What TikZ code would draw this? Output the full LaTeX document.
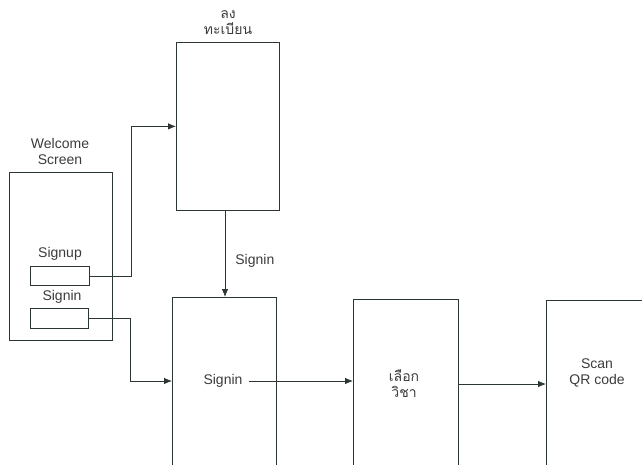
\documentclass[tikz,border=0pt]{standalone}
\usepackage{fontspec}
\setmainfont{Liberation Sans}
\newfontfamily\thaifont[Script=Thai]{Loma}
\usetikzlibrary{arrows.meta}
\definecolor{lc}{RGB}{45,55,50}
\definecolor{tc}{RGB}{60,60,60}
\begin{document}
\begin{tikzpicture}[x=1pt,y=-1pt,
  font=\fontsize{14}{16}\selectfont,
  box/.style={draw=lc, line width=0.8pt, anchor=north west, inner sep=0pt},
  txt/.style={text=tc, align=center, inner sep=0pt},
  arr/.style={draw=lc, line width=0.8pt, -{Latex[length=8pt,width=6.5pt]}}]
\useasboundingbox (0,0) rectangle (642,465);
\clip (0,0) rectangle (642,465);
\fill[white] (0,0) rectangle (642,465);
% boxes
\node[box, minimum width=103pt, minimum height=168pt] (welcome) at (9,172) {};
\node[box, minimum width=59pt, minimum height=19pt] (signupbtn) at (30,266) {};
\node[box, minimum width=58pt, minimum height=20pt] (signinbtn) at (30,308) {};
\node[box, minimum width=103pt, minimum height=168pt] (reg) at (176,42) {};
\node[box, minimum width=104pt, minimum height=200pt] (signinbox) at (172,297) {};
\node[box, minimum width=105pt, minimum height=200pt] (choice) at (353,299) {};
\node[box, minimum width=150pt, minimum height=200pt] (scan) at (546,300) {};
% texts
\node[txt] (welcometxt) at (60,151) {Welcome\\Screen};
\node[txt] (signuplbl) at (60,254) {Signup};
\node[txt] (signinlbl) at (62,297) {Signin};
\node[txt, font=\fontsize{14}{16}\selectfont\thaifont] (regtxt) at (228,23) {ลง\\ทะเบียน};
\node[txt] (signintxt) at (223,381) {Signin};
\node[txt, font=\fontsize{14}{16}\selectfont\thaifont] (choicetxt) at (404,384) {เลือก\\วิชา};
\node[txt] (scantxt) at (597,373) {Scan\\QR code};
% connectors
\draw[arr] (signupbtn.east) -- ++(42,0) |- (reg.west);
\draw[arr] (signinbtn.east) -- ++(42,0) |- (signinbox.west |- signintxt);
\draw[arr] (reg.south -| 225,0) -- (signinbox.north -| 225,0)
  node[txt, pos=0.58, right=10pt] (edgelbl) {Signin};
\draw[arr] ([xshift=6pt]signintxt.east) -- (choice.west |- signintxt);
\draw[arr] (choice.east |- choicetxt) -- (scan.west |- choicetxt);
\end{tikzpicture}
\end{document}
